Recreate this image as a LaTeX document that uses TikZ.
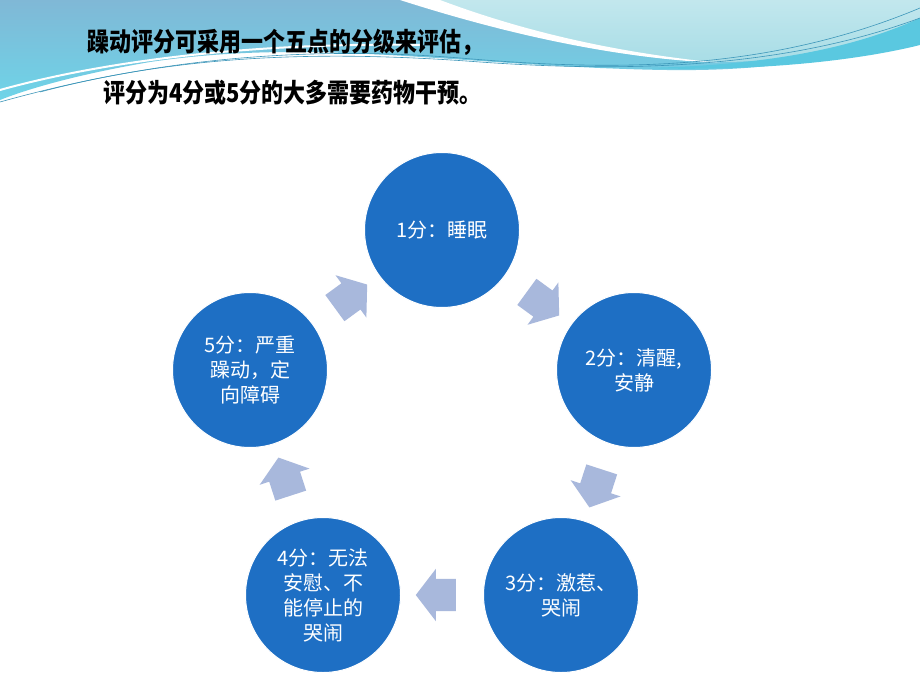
\documentclass[tikz,border=0pt]{standalone}
\usepackage{fontspec}
\newfontfamily\cjk{Noto Sans CJK SC}
\usetikzlibrary{shapes.arrows}
\definecolor{stageblue}{RGB}{30,111,196}
\definecolor{flowgray}{RGB}{168,184,220}
\definecolor{skyblue}{RGB}{128,184,214}
\definecolor{skycyan}{RGB}{110,212,232}
\definecolor{palecyan}{RGB}{168,221,230}
\definecolor{bandcyan}{RGB}{90,200,224}
\definecolor{lineblue}{RGB}{60,150,185}

\begin{document}
\begin{tikzpicture}[x=1pt, y=-1pt,
    stage/.style={circle, fill=stageblue, draw=white, line width=1pt, minimum size=155pt,
      inner sep=0pt, align=center, text=white, font=\cjk\fontsize{20}{25}\selectfont},
    flow/.style={single arrow, fill=flowgray, minimum height=40pt, minimum width=52pt,
      single arrow head extend=10pt, single arrow tip angle=105, inner xsep=0pt,
      inner ysep=16pt, sloped, allow upside down},
    title/.style={anchor=west, inner sep=0pt, font=\cjk\bfseries\fontsize{22}{26}\selectfont}]
  \useasboundingbox (0,0) rectangle (920,690);
  \fill[white] (0,0) rectangle (920,690);
  % banner
  \shade[top color=skyblue, bottom color=skycyan] (0,0) -- (920,0) -- (920,30)
    .. controls (800,75) and (700,72) .. (600,68)
    .. controls (420,60) and (300,40) .. (150,62)
    .. controls (80,74) and (30,88) .. (0,100) -- cycle;
  \shade[top color=palecyan!70!white, bottom color=palecyan] (420,0)
    .. controls (520,35) and (620,60) .. (720,62)
    .. controls (810,62) and (880,40) .. (920,22) -- (920,0) -- cycle;
  \fill[white] (400,0) .. controls (500,32) and (610,58) .. (720,63)
    .. controls (610,52) and (520,30) .. (440,0) -- cycle;
  \fill[bandcyan] (920,18) .. controls (850,50) and (760,66) .. (640,68)
    .. controls (760,72) and (860,60) .. (920,45) -- cycle;
  \draw[white, line width=2pt] (0,90) .. controls (100,62) and (250,42) .. (420,45);
  \draw[lineblue, line width=0.6pt] (0,102) .. controls (150,60) and (300,45) .. (460,58)
    .. controls (600,70) and (760,75) .. (920,8);
  \draw[lineblue, line width=0.6pt] (40,92) .. controls (180,55) and (320,50) .. (480,62)
    .. controls (620,72) and (780,70) .. (920,18);
  % titles
  \node[title] (t1) at (87,42) {\scalebox{1}[1.18]{躁动评分可采用一个五点的分级来评估，}};
  \node[title] (t2) at (103,93) {\scalebox{1}[1.18]{评分为4分或5分的大多需要药物干预。}};
  % stages
  \node[stage] (s1) at (442,230) {1分：睡眠};
  \node[stage] (s2) at (634,370) {2分：清醒,\\安静};
  \node[stage] (s3) at (561,595) {3分：激惹、\\哭闹};
  \node[stage] (s4) at (323,595) {4分：无法\\安慰、不\\能停止的\\哭闹};
  \node[stage] (s5) at (250,370) {5分：严重\\躁动，定\\向障碍};
  \path (s1) -- node[flow] (f12) {} (s2);
  \path (s2) -- node[flow] (f23) {} (s3);
  \path (s3) -- node[flow] (f34) {} (s4);
  \path (s4) -- node[flow] (f45) {} (s5);
  \path (s5) -- node[flow] (f51) {} (s1);
\end{tikzpicture}
\end{document}
